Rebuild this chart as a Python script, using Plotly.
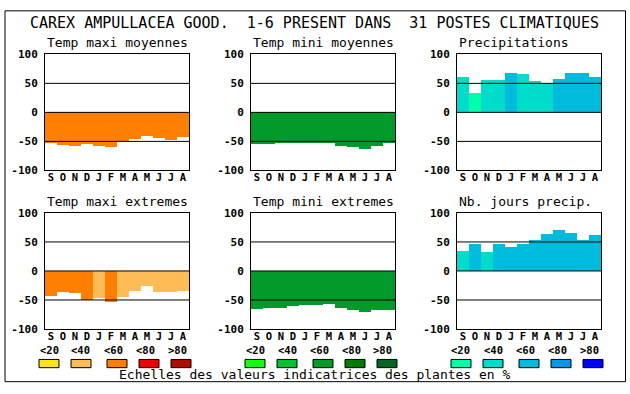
import plotly.graph_objects as go

# ---------------- data ----------------
months = ["S", "O", "N", "D", "J", "F", "M", "A", "M", "J", "J", "A"]
class_labels = ["<20", "<40", "<60", "<80", ">80"]
y_tick_vals = [100, 50, 0, -50, -100]
y_tick_text = ["100", "50", "0", "-50", "-100"]

main_title = "CAREX AMPULLACEA GOOD.  1-6 PRESENT DANS  31 POSTES CLIMATIQUES"
scale_caption = "Echelles des valeurs indicatrices des plantes en %"

maxi_colors = ["#fae31c", "#ffbb55", "#ff8000", "#ee0000", "#ae0c00"]
mini_colors = ["#11ff11", "#00c132", "#009a2a", "#007d00", "#006622"]
prec_colors = ["#00ffaa", "#00dccc", "#00bbdd", "#0099ee", "#0000ff"]

tmax_moy = [-53, -57, -58, -55, -58, -61, -50, -46, -42, -45, -48, -43]
tmax_moy_cls = [2, 2, 2, 2, 2, 2, 2, 2, 2, 2, 2, 2]

tmin_moy = [-55, -55, -54, -54, -54, -53, -54, -58, -61, -64, -58, -53]
tmin_moy_cls = [2, 2, 2, 2, 2, 2, 2, 2, 2, 2, 2, 2]

precip = [61, 33, 56, 56, 67, 66, 54, 48, 57, 67, 67, 61]
precip_cls = [1, 0, 1, 1, 2, 1, 1, 1, 2, 2, 2, 2]

tmax_ext = [-43, -36, -38, -50, -46, -54, -44, -34, -26, -36, -36, -34]
tmax_ext_cls = [2, 2, 2, 2, 1, 2, 1, 1, 1, 1, 1, 1]

tmin_ext = [-66, -64, -63, -61, -58, -58, -56, -64, -68, -71, -68, -68]
tmin_ext_cls = [2, 2, 2, 2, 2, 2, 2, 2, 2, 2, 2, 2]

nb_jours = [34, 46, 32, 46, 42, 46, 54, 64, 70, 65, 54, 62]
nb_jours_cls = [1, 2, 1, 2, 2, 2, 2, 2, 2, 2, 2, 2]

panels = [
    ("Temp maxi moyennes", tmax_moy, tmax_moy_cls, maxi_colors),
    ("Temp mini moyennes", tmin_moy, tmin_moy_cls, mini_colors),
    ("Precipitations", precip, precip_cls, prec_colors),
    ("Temp maxi extremes", tmax_ext, tmax_ext_cls, maxi_colors),
    ("Temp mini extremes", tmin_ext, tmin_ext_cls, mini_colors),
    ("Nb. jours precip.", nb_jours, nb_jours_cls, prec_colors),
]

# ---------------- layout geometry (pixels) ----------------
W, H = 630, 394
col_left = [45, 251, 457]
col_w = 144
row_top = [50, 214]
row_h = 120


def px_x(x):
    return x / W


def px_y(y):
    return 1 - y / H


def bold(s):
    return f"<b>{s}</b>"


MONO = "DejaVu Sans Mono"
fig = go.Figure()
shapes = []
annotations = []

for i, (title, vals, cls, pal) in enumerate(panels):
    r, c = divmod(i, 3)
    n = i + 1
    xa = "x" if n == 1 else f"x{n}"
    ya = "y" if n == 1 else f"y{n}"
    fig.add_trace(go.Bar(
        x=list(range(len(months))), y=vals,
        marker=dict(color=[pal[k] for k in cls], line=dict(width=0)),
        xaxis=xa, yaxis=ya, showlegend=False, hoverinfo="skip",
    ))
    x0, x1 = px_x(col_left[c]), px_x(col_left[c] + col_w)
    y0, y1 = px_y(row_top[r] + row_h), px_y(row_top[r])
    sfx = "" if n == 1 else str(n)
    fig.update_layout(**{
        f"xaxis{sfx}": dict(
            domain=[x0, x1], anchor=ya, range=[-0.5, len(months) - 0.5],
            tickmode="array", tickvals=list(range(len(months))),
            ticktext=[bold(m) for m in months],
            ticks="", ticklabelstandoff=-3,
            tickfont=dict(family=MONO, size=10.5, color="black"),
            showline=True, mirror=True, linecolor="black", linewidth=1,
            showgrid=False, zeroline=False, fixedrange=True,
        ),
        f"yaxis{sfx}": dict(
            domain=[y0, y1], anchor=xa, range=[-100, 100],
            tickmode="array", tickvals=y_tick_vals,
            ticktext=[bold(t) for t in y_tick_text],
            ticks="outside", ticklen=4, tickcolor="rgba(0,0,0,0)",
            tickfont=dict(family=MONO, size=11, color="black"),
            showline=True, mirror=True, linecolor="black", linewidth=1,
            showgrid=False, zeroline=False, fixedrange=True,
        ),
    })
    for gv in (50, 0, -50):
        shapes.append(dict(type="line", xref=f"{xa} domain", yref=ya,
                           x0=0, x1=1, y0=gv, y1=gv, layer="above",
                           line=dict(color="black", width=1)))
    annotations.append(dict(
        text=title, xref="paper", yref="paper",
        x=x0, y=y1, xanchor="left", yanchor="bottom", yshift=2,
        showarrow=False, font=dict(family=MONO, size=13, color="black"),
    ))
    # colour scale legend below the bottom row
    if r == 1:
        for k, lab in enumerate(class_labels):
            cx = col_left[c] + 4 + 32 * k
            annotations.append(dict(
                text=bold(lab), xref="paper", yref="paper",
                x=px_x(cx), y=px_y(355.5), xanchor="center", yanchor="middle",
                showarrow=False,
                font=dict(family=MONO, size=10.5, color="black"),
            ))
            sx = cx + (4 if k >= 2 else 0)
            shapes.append(dict(type="rect", xref="paper", yref="paper",
                               x0=px_x(sx - 10), x1=px_x(sx + 10),
                               y0=px_y(374), y1=px_y(365.5),
                               fillcolor=pal[k], line=dict(color="black", width=1)))

annotations.append(dict(
    text=main_title, xref="paper", yref="paper", x=px_x(314.5), y=px_y(18),
    xanchor="center", yanchor="middle", showarrow=False,
    font=dict(family=MONO, size=15, color="black"),
))
annotations.append(dict(
    text=scale_caption, xref="paper", yref="paper", x=px_x(314.5), y=px_y(381),
    xanchor="center", yanchor="middle", showarrow=False,
    font=dict(family=MONO, size=13, color="black"),
))
shapes.append(dict(type="rect", xref="paper", yref="paper",
                   x0=px_x(5), x1=px_x(625.5), y0=px_y(388.5), y1=px_y(5),
                   line=dict(color="black", width=1)))

fig.update_layout(
    width=W, height=H, margin=dict(l=0, r=0, t=0, b=0),
    paper_bgcolor="white", plot_bgcolor="white",
    bargap=0, shapes=shapes, annotations=annotations,
)

post_js = (
    "var s=document.documentElement.style;s.margin='0';s.padding='0';"
    "s.overflow='hidden';"
    "var b=document.body.style;b.margin='0';b.padding='0';b.overflow='hidden';"
)
fig.write_html(
    "out.html",
    config={"displayModeBar": False, "responsive": False},
    post_script=post_js,
)
